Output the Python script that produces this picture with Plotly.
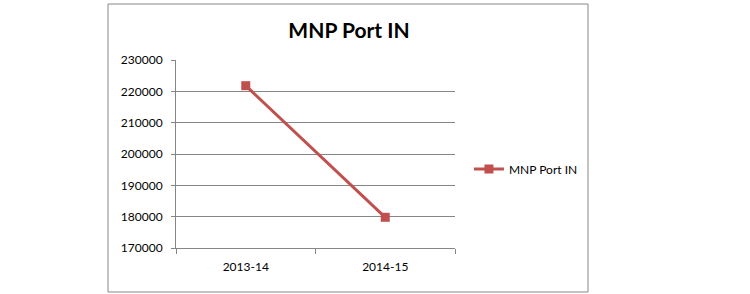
import plotly.graph_objects as go

categories = ["2013-14", "2014-15"]
values = [221800, 179800]
series_name = "MNP Port IN"
y_ticks = [170000, 180000, 190000, 200000, 210000, 220000, 230000]

RED = "#C0504D"
GRID = "#868686"
FONT = "Lato"

fig = go.Figure()
fig.add_trace(go.Scatter(
    x=categories, y=values, name=series_name, mode="lines+markers",
    line=dict(color=RED, width=3),
    marker=dict(symbol="square", size=9, color=RED),
))

fig.update_layout(
    width=750, height=294,
    margin=dict(l=176, r=295, t=60, b=46),
    paper_bgcolor="white", plot_bgcolor="white",
    font=dict(family=FONT, size=12, color="#000000"),
    title=dict(text="<b>MNP Port IN</b>", x=(349 - 0) / 750, xanchor="center",
               y=1 - 31 / 294, yanchor="middle",
               font=dict(family=FONT, size=21, color="#000000")),
    showlegend=True,
    legend=dict(x=1.05, xanchor="left", y=0.42, yanchor="middle",
                font=dict(family=FONT, size=12), bgcolor="rgba(0,0,0,0)"),
    xaxis=dict(type="category", range=[-0.5, 1.5], showgrid=False,
               showline=True, linecolor=GRID, linewidth=1,
               ticks="outside", tickson="boundaries", ticklen=5, tickcolor=GRID,
               ticklabelstandoff=8),
    yaxis=dict(range=[170000, 230000], tickvals=y_ticks,
               tickformat="d", showgrid=True, gridcolor=GRID, gridwidth=1,
               showline=True, linecolor=GRID, linewidth=1,
               ticks="outside", ticklen=4, tickcolor=GRID,
               ticklabelstandoff=6, zeroline=False),
    shapes=[dict(type="rect", xref="paper", yref="paper",
                 x0=(108 - 176) / 279, x1=(588 - 176) / 279,
                 y0=(248 - 292) / 188, y1=(248 - 4) / 188,
                 line=dict(color="#888888", width=1), fillcolor="rgba(0,0,0,0)",
                 layer="below")],
)

fig.write_html("out.html")
